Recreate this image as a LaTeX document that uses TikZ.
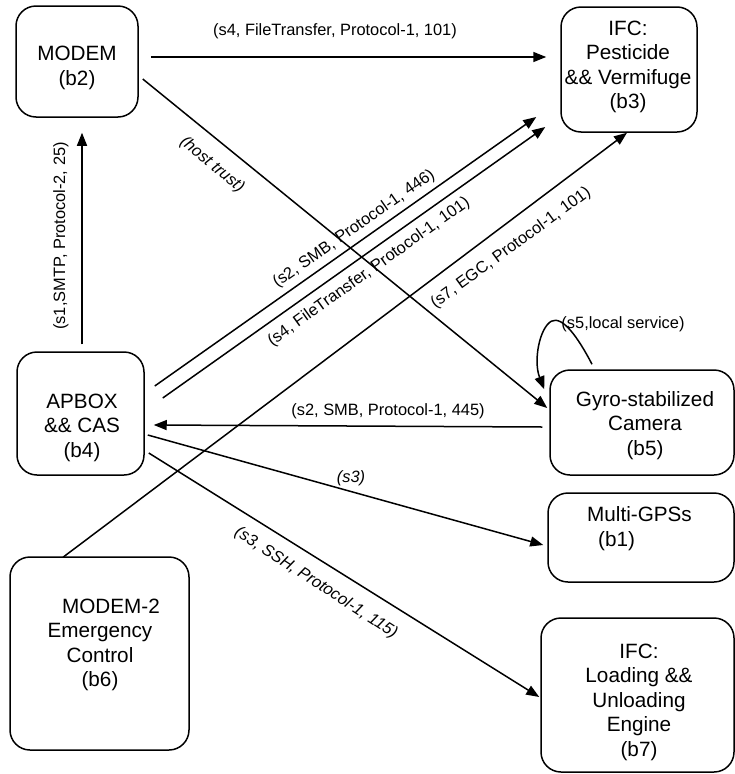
\documentclass[tikz,border=0pt]{standalone}
\usepackage{fontspec}
\setmainfont{Liberation Sans}
\usetikzlibrary{arrows.meta,calc}

\begin{document}
\begin{tikzpicture}[x=1pt,y=-1pt,
  box/.style={draw, line width=1.5pt, rounded corners=20pt, inner sep=0pt},
  boxtext/.style={align=center, font=\fontsize{20.7}{24.5}\selectfont, inner sep=0pt},
  lbl/.style={font=\fontsize{16.4}{19}\selectfont, inner sep=0pt},
  ilbl/.style={font=\fontsize{16.4}{19}\selectfont\itshape, inner sep=0pt},
  conn/.style={line width=1.5pt, -{Triangle[length=13pt,width=10pt]}},
]
\useasboundingbox (0,0) rectangle (735,774);

% boxes
\node[box, minimum width=122pt, minimum height=111pt] (b2) at (77,61.5) {};
\node[box, minimum width=136pt, minimum height=125pt] (b3) at (629,69.5) {};
\node[box, minimum width=127pt, minimum height=123pt] (b4) at (80.5,413.5) {};
\node[box, minimum width=184pt, minimum height=105pt] (b5) at (642,422.5) {};
\node[box, minimum width=186pt, minimum height=89pt] (b1) at (641,537.5) {};
\node[box, minimum width=179pt, minimum height=193pt] (b6) at (99.5,653.5) {};
\node[box, minimum width=193pt, minimum height=154pt] (b7) at (637.5,695) {};

% box texts
\node[boxtext] (t2) at (77,68) {MODEM\\(b2)};
\node[boxtext] (t3) at (628,67) {IFC:\\Pesticide\\\&\& Vermifuge\\(b3)};
\node[boxtext] (t4) at (82,427.5) {APBOX\\\&\& CAS\\(b4)};
\node[boxtext] (t5) at (645,425.5) {Gyro-stabilized\\Camera\\(b5)};
\node[boxtext, align=left] (t1) at (639.5,528.5) {Multi-GPSs\\\hspace*{11pt}(b1)};
\node[boxtext] (t6) at (100,645) {\hspace*{22pt}MODEM-2\\Emergency\\Control\\(b6)};
\node[boxtext] (t7) at (639,702) {IFC:\\Loading \&\&\\Unloading\\Engine\\(b7)};

% connectors
\draw[conn] ($(b2.east)+(12,-4.5)$) -- ($(b3.west)+(-14,-12.5)$);
\draw[conn] ($(b2.east)+(4,17.5)$) -- ($(b5.west)+(-2,-14.5)$);
\draw[conn] ($(b4.north)+(1.5,-7)$) -- ($(b2.south)+(5,15)$);
\draw[conn] ($(b4.east)+(10,-27.5)$) -- ($(b3.west)+(-24,47.5)$);
\draw[conn] ($(b4.east)+(18,-15.5)$) -- ($(b3.west)+(-15,57.5)$);
\draw[conn] ($(b6.north)+(-36.5,1)$) -- ($(b3.south)+(-2,0)$);
\draw[conn] ($(b5.west)+(-7,4.5)$) -- ($(b4.east)+(9,11.5)$);
\draw[conn] ($(b5.north)+(-50,-5)$) .. controls +(-14,-27) and +(11,-6) .. ($(b5.north west)+(2,-48)$)
            .. controls +(-12,7) and +(-11,-28) .. ($(b5.north west)+(-5,20)$);
\draw[conn] ($(b4.east)+(3,21.5)$) -- ($(b1.west)+(-4,7.5)$);
\draw[conn] ($(b4.east)+(4,39.5)$) -- ($(b7.west)+(-1,2)$);

% connector labels
\node[lbl] (l1) at (335,31.5) {(s4, FileTransfer, Protocol-1, 101)};
\node[ilbl, rotate=-40] (l2) at (212,165) {(host trust)};
\node[lbl, rotate=90] (l3) at (61,236) {(s1,SMTP, Protocol-2, 25)};
\node[lbl, rotate=35] (la) at (354,229) {(s2, SMB, Protocol-1, 446)};
\node[lbl, rotate=35.5] (lb) at (369,272) {(s4, FileTransfer, Protocol-1, 101)};
\node[lbl, rotate=36] (lc) at (511,248) {(s7, EGC, Protocol-1, 101)};
\node[lbl] (ld) at (388,411) {(s2, SMB, Protocol-1, 445)};
\node[lbl] (l5) at (623,324) {(s5,local service)};
\node[ilbl] (l6) at (351,478) {(s3)};
\node[ilbl, rotate=-33] (l7) at (316,583) {(s3, SSH, Protocol-1, 115)};
\end{tikzpicture}
\end{document}
